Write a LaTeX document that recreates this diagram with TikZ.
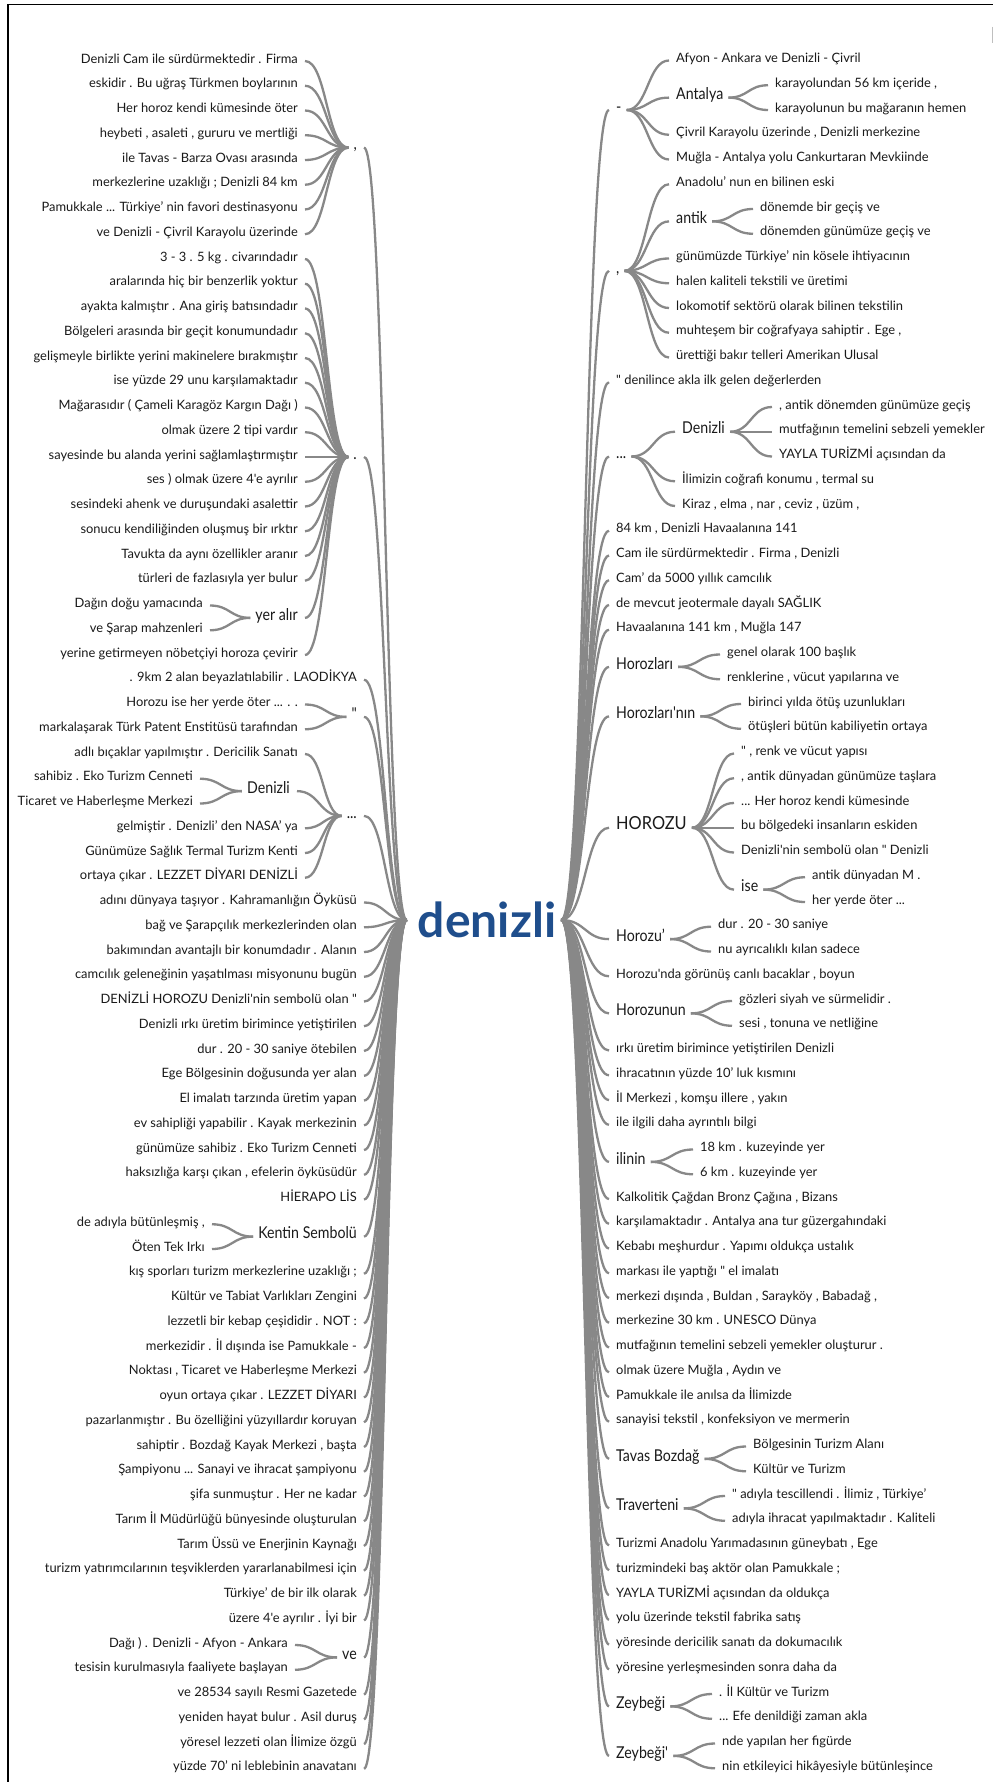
\documentclass[tikz,border=0pt]{standalone}
\usepackage{fontspec}
\usepackage{graphicx}
\newfontfamily\lato{Lato}
\usetikzlibrary{calc}
\definecolor{linkgray}{HTML}{888888}
\definecolor{txt}{HTML}{1A1A1A}
\definecolor{rootblue}{HTML}{1F4E8C}
\tikzset{
  leaf/.style={inner sep=0pt, font=\lato\fontsize{12.9}{15}\selectfont, text=txt},
  lab/.style={inner sep=0pt, font=\lato\fontsize{16.3}{19}\selectfont, text=txt},
  biglab/.style={inner sep=0pt, font=\lato\fontsize{18}{21}\selectfont, text=txt},
  rootword/.style={inner sep=0pt, font=\lato\bfseries\fontsize{48}{54}\selectfont, text=rootblue},
  link/.style={draw=linkgray, line width=2.3pt,
    to path={let \p1=(\tikztostart), \p2=(\tikztotarget) in
      .. controls ({0.5*\x1+0.5*\x2},\y1) and ({0.5*\x1+0.5*\x2},\y2) .. (\tikztotarget)}},
}
% branch words are set a little narrower than their height
\newcommand\narrow[1]{\scalebox{0.87}[1]{#1}}
% left-hand entries (right aligned) and right-hand entries (left aligned)
\newcommand\LL[4]{\node[leaf,anchor=mid east] (#1) at (#2,{61+24.75*(#3)}) {#4};}
\newcommand\LB[4]{\node[lab,anchor=mid east] (#1) at (#2,{61+24.75*(#3)}) {\narrow{#4}};}
\newcommand\RL[4]{\node[leaf,anchor=mid west] (#1) at (#2,{60.5+24.75*(#3)}) {#4};}
\newcommand\RB[4]{\node[lab,anchor=mid west] (#1) at (#2,{60.5+24.75*(#3)}) {\narrow{#4}};}
% connectors: child -> parent on the left, parent -> child on the right
\newcommand\LK[2]{\draw[link] ([xshift=7]#1.mid east) to ([xshift=-5]#2.mid west);}
\newcommand\LR[1]{\draw[link] ([xshift=7]#1.mid east) to (rootL);}
\newcommand\RK[2]{\draw[link] ([xshift=5]#1.mid east) to ([xshift=-7]#2.mid west);}
\newcommand\RR[1]{\draw[link] (rootR) to ([xshift=-7]#1.mid west);}
\begin{document}
\begin{tikzpicture}[x=1pt,y=-1pt]
\useasboundingbox (0,0) rectangle (993,1782);
\fill[white] (0,0) rectangle (993,1782);
\draw[black,line width=1.6pt] (8,1782) -- (8,4.5) -- (993,4.5);
\draw[black!25,line width=1pt] (992,27) -- (992,43);

\node[rootword] (root) at (487,920) {denizli};
\coordinate (rootL) at ([xshift=-11]root.west);
\coordinate (rootR) at ([xshift=5]root.east);

% ---------------- left branch ----------------
\LB{lc}{357}{3.5}{,}
\LL{l0}{298}{0}{Denizli Cam ile sürdürmektedir . Firma}
\LL{l1}{298}{1}{eskidir . Bu uğraş Türkmen boylarının}
\LL{l2}{298}{2}{Her horoz kendi kümesinde öter}
\LL{l3}{298}{3}{heybeti , asaleti , gururu ve mertliği}
\LL{l4}{298}{4}{ile Tavas - Barza Ovası arasında}
\LL{l5}{298}{5}{merkezlerine uzaklığı ; Denizli 84 km}
\LL{l6}{298}{6}{Pamukkale ... Türkiye’ nin favori destinasyonu}
\LL{l7}{298}{7}{ve Denizli - Çivril Karayolu üzerinde}

\LB{ld}{357}{16}{.}
\LL{l8}{298}{8}{3 - 3 . 5 kg . civarındadır}
\LL{l9}{298}{9}{aralarında hiç bir benzerlik yoktur}
\LL{l10}{298}{10}{ayakta kalmıştır . Ana giriş batısındadır}
\LL{l11}{298}{11}{Bölgeleri arasında bir geçit konumundadır}
\LL{l12}{298}{12}{gelişmeyle birlikte yerini makinelere bırakmıştır}
\LL{l13}{298}{13}{ise yüzde 29 unu karşılamaktadır}
\LL{l14}{298}{14}{Mağarasıdır ( Çameli Karagöz Kargın Dağı )}
\LL{l15}{298}{15}{olmak üzere 2 tipi vardır}
\LL{l16}{298}{16}{sayesinde bu alanda yerini sağlamlaştırmıştır}
\LL{l17}{298}{17}{ses ) olmak üzere 4'e ayrılır}
\LL{l18}{298}{18}{sesindeki ahenk ve duruşundaki asalettir}
\LL{l19}{298}{19}{sonucu kendiliğinden oluşmuş bir ırktır}
\LL{l20}{298}{20}{Tavukta da aynı özellikler aranır}
\LL{l21}{298}{21}{türleri de fazlasıyla yer bulur}
\LB{lyer}{298}{22.5}{yer alır}
\LL{l22}{203}{22}{Dağın doğu yamacında}
\LL{l23}{203}{23}{ve Şarap mahzenleri}
\LL{l24}{298}{24}{yerine getirmeyen nöbetçiyi horoza çevirir}

\LL{l25}{357}{25}{. 9km 2 alan beyazlatılabilir . LAODİKYA}

\LB{lq}{357}{26.5}{"}
\LL{l26}{298}{26}{Horozu ise her yerde öter ... . .}
\LL{l27}{298}{27}{markalaşarak Türk Patent Enstitüsü tarafından}

\LB{le}{357}{30.5}{...}
\LL{l28}{298}{28}{adlı bıçaklar yapılmıştır . Dericilik Sanatı}
\LB{lden}{290}{29.5}{Denizli}
\LL{l29}{193}{29}{sahibiz . Eko Turizm Cenneti}
\LL{l30}{193}{30}{Ticaret ve Haberleşme Merkezi}
\LL{l31}{298}{31}{gelmiştir . Denizli’ den NASA’ ya}
\LL{l32}{298}{32}{Günümüze Sağlık Termal Turizm Kenti}
\LL{l33}{298}{33}{ortaya çıkar . LEZZET DİYARI DENİZLİ}

\LL{l34}{357}{34}{adını dünyaya taşıyor . Kahramanlığın Öyküsü}
\LL{l35}{357}{35}{bağ ve Şarapçılık merkezlerinden olan}
\LL{l36}{357}{36}{bakımından avantajlı bir konumdadır . Alanın}
\LL{l37}{357}{37}{camcılık geleneğinin yaşatılması misyonunu bugün}
\LL{l38}{357}{38}{DENİZLİ HOROZU Denizli'nin sembolü olan "}
\LL{l39}{357}{39}{Denizli ırkı üretim birimince yetiştirilen}
\LL{l40}{357}{40}{dur . 20 - 30 saniye ötebilen}
\LL{l41}{357}{41}{Ege Bölgesinin doğusunda yer alan}
\LL{l42}{357}{42}{El imalatı tarzında üretim yapan}
\LL{l43}{357}{43}{ev sahipliği yapabilir . Kayak merkezinin}
\LL{l44}{357}{44}{günümüze sahibiz . Eko Turizm Cenneti}
\LL{l45}{357}{45}{haksızlığa karşı çıkan , efelerin öyküsüdür}
\LL{l46}{357}{46}{HİERAPO LİS}
\LB{lken}{357}{47.5}{Kentin Sembolü}
\LL{l47}{205}{47}{de adıyla bütünleşmiş ,}
\LL{l48}{205}{48}{Öten Tek Irkı}
\LL{l49}{357}{49}{kış sporları turizm merkezlerine uzaklığı ;}
\LL{l50}{357}{50}{Kültür ve Tabiat Varlıkları Zengini}
\LL{l51}{357}{51}{lezzetli bir kebap çeşididir . NOT :}
\LL{l52}{357}{52}{merkezidir . İl dışında ise Pamukkale -}
\LL{l53}{357}{53}{Noktası , Ticaret ve Haberleşme Merkezi}
\LL{l54}{357}{54}{oyun ortaya çıkar . LEZZET DİYARI}
\LL{l55}{357}{55}{pazarlanmıştır . Bu özelliğini yüzyıllardır koruyan}
\LL{l56}{357}{56}{sahiptir . Bozdağ Kayak Merkezi , başta}
\LL{l57}{357}{57}{Şampiyonu ... Sanayi ve ihracat şampiyonu}
\LL{l58}{357}{58}{şifa sunmuştur . Her ne kadar}
\LL{l59}{357}{59}{Tarım İl Müdürlüğü bünyesinde oluşturulan}
\LL{l60}{357}{60}{Tarım Üssü ve Enerjinin Kaynağı}
\LL{l61}{357}{61}{turizm yatırımcılarının teşviklerden yararlanabilmesi için}
\LL{l62}{357}{62}{Türkiye’ de bir ilk olarak}
\LL{l63}{357}{63}{üzere 4'e ayrılır . İyi bir}
\LB{lve}{357}{64.5}{ve}
\LL{l64}{288}{64}{Dağı ) . Denizli - Afyon - Ankara}
\LL{l65}{288}{65}{tesisin kurulmasıyla faaliyete başlayan}
\LL{l66}{357}{66}{ve 28534 sayılı Resmi Gazetede}
\LL{l67}{357}{67}{yeniden hayat bulur . Asil duruş}
\LL{l68}{357}{68}{yöresel lezzeti olan İlimize özgü}
\LL{l69}{357}{69}{yüzde 70’ ni leblebinin anavatanı}

% ---------------- right branch ----------------
\RB{rdash}{616}{2}{-}
\RL{r0}{676}{0}{Afyon - Ankara ve Denizli - Çivril}
\RB{rant}{676}{1.5}{Antalya}
\RL{r1}{775}{1}{karayolundan 56 km içeride ,}
\RL{r2}{775}{2}{karayolunun bu mağaranın hemen}
\RL{r3}{676}{3}{Çivril Karayolu üzerinde , Denizli merkezine}
\RL{r4}{676}{4}{Muğla - Antalya yolu Cankurtaran Mevkiinde}

\RB{rcom}{616}{8.5}{,}
\RL{r5}{676}{5}{Anadolu’ nun en bilinen eski}
\RB{rantik}{676}{6.5}{antik}
\RL{r6}{760}{6}{dönemde bir geçiş ve}
\RL{r7}{760}{7}{dönemden günümüze geçiş ve}
\RL{r8}{676}{8}{günümüzde Türkiye’ nin kösele ihtiyacının}
\RL{r9}{676}{9}{halen kaliteli tekstili ve üretimi}
\RL{r10}{676}{10}{lokomotif sektörü olarak bilinen tekstilin}
\RL{r11}{676}{11}{muhteşem bir coğrafyaya sahiptir . Ege ,}
\RL{r12}{676}{12}{ürettiği bakır telleri Amerikan Ulusal}

\RL{r13}{616}{13}{" denilince akla ilk gelen değerlerden}

\RB{rell}{616}{16}{...}
\RB{rden}{682}{15}{Denizli}
\RL{r14}{779}{14}{, antik dönemden günümüze geçiş}
\RL{r15}{779}{15}{mutfağının temelini sebzeli yemekler}
\RL{r16}{779}{16}{YAYLA TURİZMİ açısından da}
\RL{r17}{682}{17}{İlimizin coğrafi konumu , termal su}
\RL{r18}{682}{18}{Kiraz , elma , nar , ceviz , üzüm ,}

\RL{r19}{616}{19}{84 km , Denizli Havaalanına 141}
\RL{r20}{616}{20}{Cam ile sürdürmektedir . Firma , Denizli}
\RL{r21}{616}{21}{Cam’ da 5000 yıllık camcılık}
\RL{r22}{616}{22}{de mevcut jeotermale dayalı SAĞLIK}
\RL{r23}{616}{23}{Havaalanına 141 km , Muğla 147}

\RB{rhz}{616}{24.5}{Horozları}
\RL{r24}{727}{24}{genel olarak 100 başlık}
\RL{r25}{727}{25}{renklerine , vücut yapılarına ve}
\RB{rhzn}{616}{26.5}{Horozları'nın}
\RL{r26}{748}{26}{birinci yılda ötüş uzunlukları}
\RL{r27}{748}{27}{ötüşleri bütün kabiliyetin ortaya}

\node[biglab,anchor=mid west] (rHO) at (616,{60.5+24.75*31}) {\scalebox{0.91}[1]{HOROZU}};
\RL{r28}{741}{28}{" , renk ve vücut yapısı}
\RL{r29}{741}{29}{, antik dünyadan günümüze taşlara}
\RL{r30}{741}{30}{... Her horoz kendi kümesinde}
\RL{r31}{741}{31}{bu bölgedeki insanların eskiden}
\RL{r32}{741}{32}{Denizli'nin sembolü olan " Denizli}
\RB{rise}{741}{33.5}{ise}
\RL{r33}{812}{33}{antik dünyadan M .}
\RL{r34}{812}{34}{her yerde öter ...}

\RB{rhzu}{616}{35.5}{Horozu’}
\RL{r35}{718}{35}{dur . 20 - 30 saniye}
\RL{r36}{718}{36}{nu ayrıcalıklı kılan sadece}
\RL{r37}{616}{37}{Horozu'nda görünüş canlı bacaklar , boyun}
\RB{rhzun}{616}{38.5}{Horozunun}
\RL{r38}{739}{38}{gözleri siyah ve sürmelidir .}
\RL{r39}{739}{39}{sesi , tonuna ve netliğine}
\RL{r40}{616}{40}{ırkı üretim birimince yetiştirilen Denizli}
\RL{r41}{616}{41}{ihracatının yüzde 10’ luk kısmını}
\RL{r42}{616}{42}{İl Merkezi , komşu illere , yakın}
\RL{r43}{616}{43}{ile ilgili daha ayrıntılı bilgi}
\RB{rilin}{616}{44.5}{ilinin}
\RL{r44}{700}{44}{18 km . kuzeyinde yer}
\RL{r45}{700}{45}{6 km . kuzeyinde yer}
\RL{r46}{616}{46}{Kalkolitik Çağdan Bronz Çağına , Bizans}
\RL{r47}{616}{47}{karşılamaktadır . Antalya ana tur güzergahındaki}
\RL{r48}{616}{48}{Kebabı meşhurdur . Yapımı oldukça ustalık}
\RL{r49}{616}{49}{markası ile yaptığı " el imalatı}
\RL{r50}{616}{50}{merkezi dışında , Buldan , Sarayköy , Babadağ ,}
\RL{r51}{616}{51}{merkezine 30 km . UNESCO Dünya}
\RL{r52}{616}{52}{mutfağının temelini sebzeli yemekler oluşturur .}
\RL{r53}{616}{53}{olmak üzere Muğla , Aydın ve}
\RL{r54}{616}{54}{Pamukkale ile anılsa da İlimizde}
\RL{r55}{616}{55}{sanayisi tekstil , konfeksiyon ve mermerin}
\RB{rtav}{616}{56.5}{Tavas Bozdağ}
\RL{r56}{753}{56}{Bölgesinin Turizm Alanı}
\RL{r57}{753}{57}{Kültür ve Turizm}
\RB{rtrav}{616}{58.5}{Traverteni}
\RL{r58}{732}{58}{" adıyla tescillendi . İlimiz , Türkiye’}
\RL{r59}{732}{59}{adıyla ihracat yapılmaktadır . Kaliteli}
\RL{r60}{616}{60}{Turizmi Anadolu Yarımadasının güneybatı , Ege}
\RL{r61}{616}{61}{turizmindeki baş aktör olan Pamukkale ;}
\RL{r62}{616}{62}{YAYLA TURİZMİ açısından da oldukça}
\RL{r63}{616}{63}{yolu üzerinde tekstil fabrika satış}
\RL{r64}{616}{64}{yöresinde dericilik sanatı da dokumacılık}
\RL{r65}{616}{65}{yöresine yerleşmesinden sonra daha da}
\RB{rzey}{616}{66.5}{Zeybeği}
\RL{r66}{719}{66}{. İl Kültür ve Turizm}
\RL{r67}{719}{67}{... Efe denildiği zaman akla}
\RB{rzeyb}{616}{68.5}{Zeybeği'}
\RL{r68}{722}{68}{nde yapılan her figürde}
\RL{r69}{722}{69}{nin etkileyici hikâyesiyle bütünleşince}

% ---------------- connectors, left ----------------
\foreach \c in {l0,l1,l2,l3,l4,l5,l6,l7} {\LK{\c}{lc}}
\foreach \c in {l8,l9,l10,l11,l12,l13,l14,l15,l16,l17,l18,l19,l20,l21,lyer,l24} {\LK{\c}{ld}}
\LK{l22}{lyer} \LK{l23}{lyer}
\LK{l26}{lq} \LK{l27}{lq}
\foreach \c in {l28,lden,l31,l32,l33} {\LK{\c}{le}}
\LK{l29}{lden} \LK{l30}{lden}
\LK{l47}{lken} \LK{l48}{lken}
\LK{l64}{lve} \LK{l65}{lve}
\foreach \c in {lc,ld,l25,lq,le,l34,l35,l36,l37,l38,l39,l40,l41,l42,l43,l44,l45,l46,lken,
  l49,l50,l51,l52,l53,l54,l55,l56,l57,l58,l59,l60,l61,l62,l63,lve,l66,l67,l68,l69} {\LR{\c}}

% ---------------- connectors, right ----------------
\foreach \c in {r0,rant,r3,r4} {\RK{rdash}{\c}}
\RK{rant}{r1} \RK{rant}{r2}
\foreach \c in {r5,rantik,r8,r9,r10,r11,r12} {\RK{rcom}{\c}}
\RK{rantik}{r6} \RK{rantik}{r7}
\foreach \c in {rden,r17,r18} {\RK{rell}{\c}}
\foreach \c in {r14,r15,r16} {\RK{rden}{\c}}
\RK{rhz}{r24} \RK{rhz}{r25}
\RK{rhzn}{r26} \RK{rhzn}{r27}
\foreach \c in {r28,r29,r30,r31,r32,rise} {\RK{rHO}{\c}}
\RK{rise}{r33} \RK{rise}{r34}
\RK{rhzu}{r35} \RK{rhzu}{r36}
\RK{rhzun}{r38} \RK{rhzun}{r39}
\RK{rilin}{r44} \RK{rilin}{r45}
\RK{rtav}{r56} \RK{rtav}{r57}
\RK{rtrav}{r58} \RK{rtrav}{r59}
\RK{rzey}{r66} \RK{rzey}{r67}
\RK{rzeyb}{r68} \RK{rzeyb}{r69}
\foreach \c in {rdash,rcom,r13,rell,r19,r20,r21,r22,r23,rhz,rhzn,rHO,rhzu,r37,rhzun,
  r40,r41,r42,r43,rilin,r46,r47,r48,r49,r50,r51,r52,r53,r54,r55,rtav,rtrav,
  r60,r61,r62,r63,r64,r65,rzey,rzeyb} {\RR{\c}}
\end{tikzpicture}
\end{document}
